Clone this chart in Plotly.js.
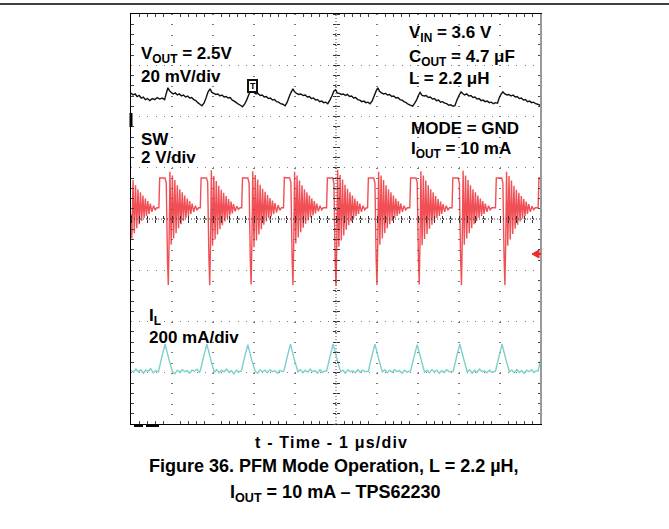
<!DOCTYPE html>
<html><head><meta charset="utf-8">
<script src="https://cdn.plot.ly/plotly-3.0.1.min.js"></script>
<style>html,body{margin:0;padding:0;background:#fff;} #chart{width:669px;height:529px;}</style>
</head><body><div id="chart"></div>
<script>
// ---- Data (time in µs, amplitude in scope divisions from bottom of screen) ----
const voutT = [0.00,0.05,0.10,0.15,0.20,0.25,0.30,0.35,0.40,0.46,0.52,0.58,0.64,0.70,0.76,0.82,0.86,0.90,0.94,0.98,
 1.03,1.08,1.13,1.18,1.23,1.28,1.33,1.38,1.43,1.48,1.53,1.58,1.63,1.68,1.73,1.78,1.83,1.88,1.93,1.97,
 2.02,2.07,2.12,2.17,2.22,2.27,2.32,2.37,2.42,2.47,2.52,2.57,2.62,2.67,2.72,2.77,2.82,2.88,2.95,3.00,
 3.05,3.10,3.15,3.20,3.25,3.30,3.35,3.40,3.45,3.50,3.55,3.60,3.65,3.70,3.76,3.81,3.86,3.91,3.95,3.99,
 4.04,4.09,4.14,4.20,4.25,4.30,4.35,4.40,4.45,4.50,4.55,4.60,4.65,4.70,4.75,4.80,4.85,4.90,4.95,4.99,
 5.03,5.08,5.13,5.18,5.23,5.28,5.33,5.38,5.43,5.48,5.53,5.58,5.63,5.68,5.73,5.78,5.83,5.88,5.93,5.98,
 6.02,6.06,6.11,6.16,6.21,6.26,6.31,6.36,6.41,6.46,6.51,6.56,6.61,6.66,6.71,6.76,6.81,6.87,6.92,6.97,
 7.01,7.05,7.10,7.15,7.20,7.25,7.30,7.35,7.40,7.45,7.50,7.55,7.60,7.65,7.70,7.75,7.80,7.85,7.90,7.95,
 8.00,8.05,8.09,8.14,8.19,8.24,8.29,8.34,8.39,8.44,8.49,8.54,8.59,8.64,8.69,8.74,8.79,8.84,8.89,8.94,
 8.98,9.03,9.07,9.12,9.17,9.22,9.27,9.32,9.37,9.42,9.47,9.52,9.57,9.62,9.67,9.72,9.77,9.82,9.87,9.92,9.97,10.00];
const voutV = [6.46,6.42,6.44,6.39,6.41,6.36,6.38,6.33,6.35,6.31,6.35,6.33,6.37,6.34,6.36,6.33,6.45,6.56,6.50,6.47,
 6.44,6.46,6.42,6.44,6.40,6.42,6.38,6.40,6.36,6.37,6.33,6.31,6.27,6.24,6.21,6.26,6.36,6.48,6.54,6.47,
 6.45,6.43,6.44,6.40,6.42,6.38,6.39,6.36,6.37,6.32,6.30,6.27,6.24,6.22,6.19,6.24,6.32,6.44,6.54,6.47,
 6.44,6.45,6.41,6.42,6.38,6.39,6.35,6.36,6.32,6.33,6.29,6.28,6.25,6.24,6.21,6.28,6.39,6.48,6.54,6.48,
 6.45,6.43,6.44,6.41,6.42,6.38,6.39,6.35,6.36,6.32,6.33,6.29,6.30,6.27,6.28,6.25,6.32,6.40,6.50,6.52,
 6.46,6.45,6.43,6.44,6.41,6.43,6.39,6.40,6.36,6.37,6.33,6.32,6.29,6.30,6.27,6.28,6.25,6.30,6.40,6.50,
 6.56,6.49,6.46,6.44,6.45,6.42,6.43,6.39,6.40,6.36,6.37,6.33,6.32,6.29,6.27,6.24,6.22,6.20,6.26,6.33,
 6.41,6.47,6.41,6.40,6.41,6.37,6.38,6.34,6.35,6.31,6.32,6.28,6.29,6.26,6.25,6.22,6.23,6.20,6.21,6.32,
 6.41,6.48,6.45,6.42,6.44,6.40,6.41,6.37,6.38,6.34,6.35,6.31,6.32,6.29,6.30,6.27,6.28,6.25,6.27,6.26,
 6.36,6.44,6.48,6.44,6.42,6.43,6.40,6.42,6.38,6.39,6.35,6.36,6.32,6.33,6.29,6.30,6.27,6.28,6.25,6.24,6.22,6.22];

const swT = [0.00,0.02,0.05,0.08,0.11,0.14,0.17,0.20,0.23,0.26,0.29,0.32,0.35,0.38,0.41,0.44,0.47,0.51,0.55,0.59,0.63,
 0.68,0.70,0.83,0.86,0.89,0.91,0.93,0.95,0.98,1.01,1.04,1.07,1.10,1.13,1.16,1.19,1.22,1.25,1.28,1.31,1.34,1.37,1.40,1.43,1.46,1.49,1.53,1.57,1.61,1.65,
 1.69,1.71,1.84,1.87,1.90,1.92,1.94,1.96,1.99,2.02,2.05,2.08,2.11,2.14,2.17,2.20,2.23,2.26,2.29,2.32,2.35,2.38,2.41,2.44,2.47,2.50,2.54,2.58,2.62,2.66,
 2.70,2.72,2.85,2.88,2.91,2.93,2.95,2.97,3.00,3.03,3.06,3.09,3.12,3.15,3.18,3.21,3.24,3.27,3.30,3.33,3.36,3.39,3.42,3.45,3.48,3.51,3.55,3.59,3.63,3.67,
 3.72,3.74,3.87,3.90,3.93,3.95,3.97,3.99,4.02,4.05,4.08,4.11,4.14,4.17,4.20,4.23,4.26,4.29,4.32,4.35,4.38,4.41,4.44,4.47,4.50,4.53,4.57,4.61,4.65,4.69,
 4.77,4.79,4.92,4.95,4.98,5.00,5.02,5.04,5.07,5.10,5.13,5.16,5.19,5.22,5.25,5.28,5.31,5.34,5.37,5.40,5.43,5.46,5.49,5.52,5.55,5.58,5.62,5.66,5.70,5.74,
 5.77,5.79,5.92,5.95,5.98,6.00,6.02,6.04,6.07,6.10,6.13,6.16,6.19,6.22,6.25,6.28,6.31,6.34,6.37,6.40,6.43,6.46,6.49,6.52,6.55,6.58,6.62,6.66,6.70,6.74,
 6.80,6.82,6.95,6.98,7.01,7.03,7.05,7.07,7.10,7.13,7.16,7.19,7.22,7.25,7.28,7.31,7.34,7.37,7.40,7.43,7.46,7.49,7.52,7.55,7.58,7.61,7.65,7.69,7.73,7.77,
 7.83,7.85,7.98,8.01,8.04,8.06,8.08,8.10,8.13,8.16,8.19,8.22,8.25,8.28,8.31,8.34,8.37,8.40,8.43,8.46,8.49,8.52,8.55,8.58,8.61,8.64,8.68,8.72,8.76,8.80,
 8.89,8.91,9.04,9.07,9.10,9.12,9.14,9.16,9.19,9.22,9.25,9.28,9.31,9.34,9.37,9.40,9.43,9.46,9.49,9.52,9.55,9.58,9.61,9.64,9.67,9.70,9.74,9.78,9.82,9.86,
 9.93,9.95,10.05];
const swV = [4.10,3.62,4.76,3.72,4.66,3.82,4.58,3.90,4.52,3.96,4.46,4.02,4.40,4.06,4.35,4.10,4.30,4.14,4.26,4.18,4.22,
 4.22,4.80,4.80,4.70,3.20,2.71,3.60,4.92,3.50,4.85,3.62,4.76,3.72,4.66,3.82,4.58,3.90,4.52,3.96,4.46,4.02,4.40,4.06,4.35,4.10,4.30,4.14,4.26,4.18,4.22,
 4.22,4.80,4.80,4.72,3.25,2.71,3.55,4.95,3.48,4.84,3.60,4.74,3.70,4.65,3.80,4.57,3.88,4.51,3.95,4.45,4.01,4.39,4.07,4.34,4.11,4.29,4.15,4.25,4.19,4.22,
 4.22,4.80,4.80,4.70,3.18,2.72,3.62,4.93,3.45,4.86,3.58,4.77,3.70,4.67,3.80,4.59,3.89,4.53,3.95,4.47,4.02,4.41,4.05,4.36,4.10,4.31,4.13,4.27,4.17,4.22,
 4.22,4.81,4.80,4.71,3.22,2.71,3.58,4.92,3.52,4.85,3.64,4.75,3.74,4.66,3.83,4.58,3.91,4.52,3.97,4.46,4.03,4.40,4.07,4.35,4.11,4.30,4.15,4.26,4.18,4.22,
 4.22,4.80,4.80,4.70,3.15,2.70,3.55,4.96,3.46,4.86,3.58,4.77,3.68,4.67,3.79,4.59,3.88,4.52,3.95,4.46,4.01,4.40,4.06,4.35,4.10,4.30,4.14,4.26,4.18,4.22,
 4.22,4.80,4.80,4.70,3.20,2.71,3.60,4.92,3.50,4.85,3.62,4.76,3.72,4.66,3.82,4.58,3.90,4.52,3.96,4.46,4.02,4.40,4.06,4.35,4.10,4.30,4.14,4.26,4.18,4.22,
 4.22,4.80,4.80,4.72,3.24,2.72,3.58,4.93,3.49,4.85,3.61,4.75,3.71,4.66,3.81,4.58,3.89,4.52,3.96,4.45,4.02,4.39,4.06,4.34,4.10,4.29,4.14,4.26,4.18,4.22,
 4.22,4.80,4.80,4.70,3.20,2.71,3.60,4.94,3.50,4.85,3.62,4.76,3.72,4.66,3.82,4.58,3.90,4.52,3.96,4.46,4.02,4.40,4.06,4.35,4.10,4.30,4.14,4.26,4.18,4.22,
 4.22,4.80,4.80,4.71,3.22,2.71,3.58,4.92,3.48,4.84,3.60,4.75,3.71,4.65,3.81,4.57,3.89,4.51,3.95,4.45,4.01,4.39,4.06,4.34,4.10,4.29,4.14,4.25,4.18,4.22,
 4.22,4.80,4.80];

const ilT = [0.00,0.06,0.12,0.18,0.24,0.30,0.36,0.42,0.48,0.54,0.60,0.67,0.75,0.83,0.92,1.01,1.07,1.13,1.19,1.25,1.31,1.37,1.43,1.49,1.55,1.61,1.67,
 1.69,1.77,1.85,1.94,2.03,2.09,2.15,2.21,2.27,2.33,2.39,2.45,2.51,2.57,2.63,
 2.69,2.77,2.85,2.94,3.03,3.09,3.15,3.21,3.27,3.33,3.39,3.45,3.51,3.57,3.63,3.69,
 3.73,3.81,3.89,3.98,4.07,4.13,4.19,4.25,4.31,4.37,4.43,4.49,4.55,4.61,4.67,4.73,
 4.77,4.85,4.93,5.02,5.11,5.17,5.23,5.29,5.35,5.41,5.47,5.53,5.59,5.65,5.71,
 5.79,5.87,5.95,6.04,6.13,6.19,6.25,6.31,6.37,6.43,6.49,6.55,6.61,6.67,6.73,
 6.82,6.90,6.98,7.07,7.16,7.22,7.28,7.34,7.40,7.46,7.52,7.58,7.64,7.70,7.76,
 7.86,7.94,8.02,8.11,8.20,8.26,8.32,8.38,8.44,8.50,8.56,8.62,8.68,8.74,8.80,
 8.89,8.97,9.05,9.14,9.23,9.29,9.35,9.41,9.47,9.53,9.59,9.65,9.71,9.77,9.83,9.89,9.93,10.00];
const ilV = [1.05,1.01,1.07,1.02,1.06,0.99,1.05,1.03,1.08,1.00,1.04,1.02,1.30,1.56,1.28,1.02,0.98,1.05,1.01,1.06,1.02,1.04,0.99,1.05,1.03,1.07,1.01,
 1.04,1.31,1.56,1.27,1.01,1.06,1.00,1.05,1.02,1.07,1.01,1.04,0.98,1.05,1.02,
 1.03,1.30,1.55,1.26,1.03,0.99,1.06,1.02,1.05,1.00,1.06,1.02,1.04,0.99,1.05,1.02,
 1.04,1.31,1.56,1.27,1.02,1.06,1.00,1.05,1.01,1.07,1.02,1.04,0.99,1.06,1.01,1.04,
 1.03,1.30,1.56,1.28,1.02,1.05,0.99,1.06,1.02,1.04,1.00,1.06,1.01,1.05,1.02,
 1.03,1.31,1.56,1.27,1.02,1.06,1.00,1.05,1.01,1.06,1.02,1.04,0.99,1.05,1.01,
 1.04,1.30,1.55,1.27,1.01,1.05,1.00,1.06,1.02,1.05,0.99,1.04,1.01,1.06,1.02,
 1.03,1.31,1.56,1.28,1.02,1.06,0.99,1.05,1.01,1.07,1.02,1.04,1.00,1.05,1.01,
 1.03,1.30,1.56,1.27,1.02,1.05,1.00,1.06,1.01,1.04,0.99,1.05,1.02,1.06,1.01,1.04,1.03,1.28];

// ---- Layout geometry helpers (pixel -> paper) ----
const PL = 131, PT = 14, PW = 410, PH = 410;
const px = x => (x - PL) / PW;
const py = y => (PT + PH - y) / PH;
const FONT = 'Liberation Sans, Arial, sans-serif';

function lbl(text, x, y, size, xanchor) {
  return {text: '<b>' + text + '</b>', xref: 'paper', yref: 'paper', x: px(x), y: py(y),
    xanchor: xanchor || 'left', yanchor: 'middle', showarrow: false,
    font: {family: FONT, size: size || 17, color: '#000'}};
}

const traces = [
  {x: voutT, y: voutV, mode: 'lines', line: {color: '#111', width: 1.4, simplify: false}, hoverinfo: 'skip'},
  {x: swT, y: swV, mode: 'lines', line: {color: 'rgba(236,36,42,0.8)', width: 1.4, simplify: false}, hoverinfo: 'skip'},
  {x: ilT, y: ilV, mode: 'lines', line: {color: '#7ccfca', width: 1.4, simplify: false}, hoverinfo: 'skip'},
  {x: [], y: [], xaxis: 'x2', yaxis: 'y2', hoverinfo: 'skip'},
  {x: [], y: [], xaxis: 'x3', yaxis: 'y3', hoverinfo: 'skip'}
];

const centerAx = {range: [0, 10], dtick: 0.2, tick0: 0, ticklen: 3, tickcolor: '#333', tickwidth: 1,
  showticklabels: false, showgrid: false, zeroline: false, showline: false, fixedrange: true};

const layout = {
  width: 669, height: 529,
  margin: {l: PL, r: 669 - PL - PW, t: PT, b: 529 - PT - PH, pad: 0},
  paper_bgcolor: '#fff', plot_bgcolor: '#fff',
  showlegend: false,
  xaxis: {range: [0, 10], dtick: 1, tick0: 0, showticklabels: false,
    showgrid: true, gridcolor: '#7a7a7a', gridwidth: 1.2, griddash: '1px,9.25px',
    ticks: 'inside', ticklen: 0, zeroline: false,
    showline: true, linecolor: '#000', linewidth: 1, mirror: 'allticks',
    minor: {dtick: 0.2, tick0: 0, ticks: 'inside', ticklen: 3, tickcolor: '#444', showgrid: false},
    fixedrange: true},
  yaxis: {range: [0, 8], dtick: 1, tick0: 0, showticklabels: false,
    showgrid: true, gridcolor: '#7a7a7a', gridwidth: 1.2, griddash: '1px,7.2px',
    ticks: 'inside', ticklen: 0, zeroline: false,
    showline: true, linecolor: '#000', linewidth: 1, mirror: 'allticks',
    minor: {dtick: 0.2, tick0: 0, ticks: 'inside', ticklen: 3, tickcolor: '#444', showgrid: false},
    fixedrange: true},
  xaxis2: Object.assign({}, centerAx, {overlaying: 'x', anchor: 'free', position: 0.5, side: 'bottom', ticks: 'outside'}),
  xaxis3: Object.assign({}, centerAx, {overlaying: 'x', anchor: 'free', position: 0.5, side: 'top', ticks: 'outside'}),
  yaxis2: Object.assign({}, centerAx, {range: [0, 8], overlaying: 'y', anchor: 'free', position: 0.5, side: 'left', ticks: 'outside'}),
  yaxis3: Object.assign({}, centerAx, {range: [0, 8], overlaying: 'y', anchor: 'free', position: 0.5, side: 'right', ticks: 'outside'}),
  shapes: [
    {type: 'line', xref: 'paper', yref: 'paper', x0: px(0), x1: px(669), y0: py(4), y1: py(4), line: {color: '#000', width: 1.5}},
    {type: 'line', xref: 'paper', yref: 'paper', x0: 0, x1: 1, y0: 0.5, y1: 0.5, line: {color: '#333', width: 1, dash: '1px,2px'}, layer: 'above'},
    {type: 'line', xref: 'paper', yref: 'paper', x0: 0.5, x1: 0.5, y0: 0, y1: 1, line: {color: '#888', width: 1.5, dash: '1px,2px'}, layer: 'below'},
    {type: 'line', xref: 'paper', yref: 'paper', x0: 1, x1: 1, y0: 0, y1: 1, line: {color: '#999', width: 2}},
    {type: 'line', xref: 'paper', yref: 'paper', x0: px(131), x1: px(131), y0: py(127), y1: py(113), line: {color: '#000', width: 3}},
    {type: 'line', xref: 'paper', yref: 'paper', x0: px(134), x1: px(143), y0: py(426), y1: py(426), line: {color: '#000', width: 2}},
    {type: 'line', xref: 'paper', yref: 'paper', x0: px(146), x1: px(159), y0: py(426), y1: py(426), line: {color: '#000', width: 2}},
    {type: 'path', xref: 'paper', yref: 'paper', path: 'M ' + px(532) + ' ' + py(254) + ' L ' + px(539) + ' ' + py(250) + ' L ' + px(539) + ' ' + py(258) + ' Z',
      fillcolor: '#ee2a2a', line: {color: '#ee2a2a', width: 1}},
    {type: 'line', xref: 'paper', yref: 'paper', x0: px(535), x1: px(541), y0: py(254), y1: py(254), line: {color: '#ee2a2a', width: 2}},
    {type: 'rect', xref: 'paper', yref: 'paper', x0: px(248), x1: px(257), y0: py(92), y1: py(80), fillcolor: '#fff', line: {color: '#111', width: 2}}
  ],
  annotations: [
    lbl('V<sub>OUT</sub> = 2.5V', 139, 55),
    lbl('20 mV/div', 139, 76),
    lbl('SW', 139, 139),
    lbl('2 V/div', 139, 157),
    lbl('I<sub>L</sub>', 147, 317),
    lbl('200 mA/div', 147, 337),
    lbl('V<sub>IN</sub> = 3.6 V', 407, 34),
    lbl('C<sub>OUT</sub> = 4.7 μF', 407, 58),
    lbl('L = 2.2 μH', 407, 78),
    lbl('MODE = GND', 409, 128),
    lbl('I<sub>OUT</sub> = 10 mA', 409, 150),
    lbl('<span style="letter-spacing:1.2px">t - Time - 1 μs/div</span>', 331, 442, 16, 'center'),
    lbl('Figure 36. PFM Mode Operation, L = 2.2 µH,', 334, 466, 18, 'center'),
    lbl('I<sub>OUT</sub> = 10 mA – TPS62230', 335, 494, 18, 'center'),
    {text: '<b>T</b>', xref: 'paper', yref: 'paper', x: px(252.5), y: py(86), xanchor: 'center', yanchor: 'middle', showarrow: false,
      font: {family: FONT, size: 9, color: '#000'}}
  ]
};

Plotly.newPlot('chart', traces, layout, {staticPlot: true, displayModeBar: false});
</script></body></html>
